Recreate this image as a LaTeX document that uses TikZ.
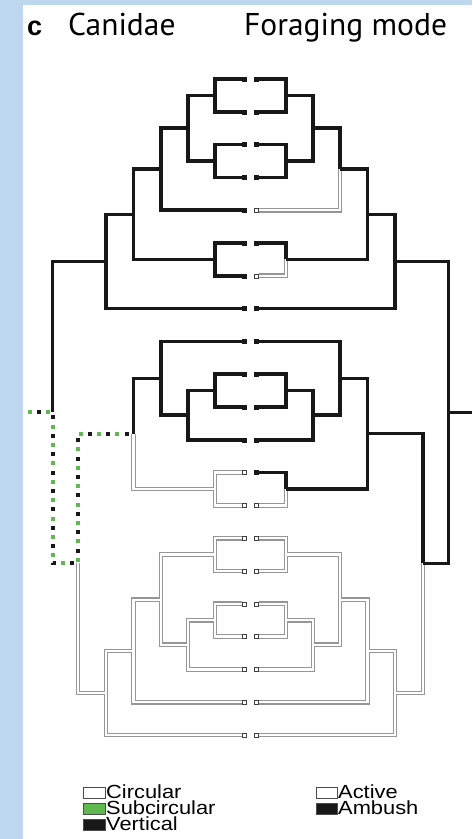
\documentclass[tikz,border=0pt]{standalone}
\usepackage{fontspec}
\usetikzlibrary{calc}
\setmainfont{Liberation Sans}
\newfontfamily\headfont{PT Sans}
\newfontfamily\legendfont[FakeStretch=1.15]{Liberation Sans}
\definecolor{panelblue}{RGB}{189,215,238}
\definecolor{subgreen}{RGB}{96,184,80}
\definecolor{branchgray}{RGB}{150,150,150}
\definecolor{ink}{RGB}{24,24,24}

\begin{document}
\begin{tikzpicture}[x=1pt,y=-1pt,
  blackbr/.style={draw=ink, line width=3.5pt, line join=miter},
  grayouter/.style={draw=branchgray, line width=4.8pt, line join=miter},
  grayinner/.style={draw=white, line width=2.4pt, line join=miter},
  dotbase/.style={line width=4pt, dash pattern=on 4pt off 14.4pt},
  tipfull/.style={fill=ink, draw=ink, line width=0.4pt},
  tipopen/.style={fill=white, draw=black!75, line width=0.6pt},
  legbox/.style={draw=black!70, line width=0.5pt},
  legtext/.style={anchor=base west, inner sep=0pt, font=\legendfont\fontsize{19}{20}\selectfont},
  headtext/.style={anchor=base west, inner sep=0pt, font=\headfont\fontsize{31.5}{33}\selectfont}]

\useasboundingbox (0,0) rectangle (472,839);
% panel background and coloured margins
\fill[white] (0,0) rectangle (472,839);
\fill[panelblue] (0,0) rectangle (23,839);
\fill[panelblue] (0,0) rectangle (472,5);

% headings
\node[anchor=base west, inner sep=0pt, font=\bfseries\fontsize{27}{29}\selectfont] (panel) at (27,35) {c};
\node[headtext] (lefthead) at (68,35) {Canidae};
\node[headtext] (righthead) at (244,35) {Foraging mode};

% leaf ends of both trees
\foreach \i in {0,...,20}{
  \coordinate (lL\i) at (242, 79+32.8*\i);
  \coordinate (rL\i) at (259, 79+32.8*\i);
}

% internal nodes, left tree (pupil shape)
\coordinate (a01)   at (215, 95.4);
\coordinate (a23)   at (215, 161.0);
\coordinate (a03)   at (188, 128.2);
\coordinate (a04)   at (161, 169.2);
\coordinate (a56)   at (215, 259.4);
\coordinate (a06)   at (133.5, 214.3);
\coordinate (a07)   at (106, 261.45);
\coordinate (a910)  at (215, 390.6);
\coordinate (a911)  at (188, 415.2);
\coordinate (a811)  at (161, 378.3);
\coordinate (a1213) at (215, 489.0);
\coordinate (a813)  at (133.5, 433.65);
\coordinate (a1415) at (215, 554.6);
\coordinate (a1617) at (215, 620.2);
\coordinate (a1618) at (188, 644.8);
\coordinate (a1418) at (161, 599.7);
\coordinate (a1419) at (133.5, 650.95);
\coordinate (a1420) at (106, 692.98);
\coordinate (a820)  at (78, 563.31);
\coordinate (lroot) at (52.5, 412.38);
\coordinate (lstub) at (28, 412.38);

% internal nodes, right tree (foraging mode)
\coordinate (b01)   at (286, 95.4);
\coordinate (b23)   at (286, 161.0);
\coordinate (b03)   at (313, 128.2);
\coordinate (b04)   at (340, 169.2);
\coordinate (b56)   at (286, 259.4);
\coordinate (b06)   at (367.5, 214.3);
\coordinate (b07)   at (395, 261.45);
\coordinate (b910)  at (286, 390.6);
\coordinate (b911)  at (313, 415.2);
\coordinate (b811)  at (340, 378.3);
\coordinate (b1213) at (286, 489.0);
\coordinate (b813)  at (367.5, 433.65);
\coordinate (b1415) at (286, 554.6);
\coordinate (b1617) at (286, 620.2);
\coordinate (b1618) at (313, 644.8);
\coordinate (b1418) at (340, 599.7);
\coordinate (b1419) at (367.5, 650.95);
\coordinate (b1420) at (395, 692.98);
\coordinate (b820)  at (423, 563.31);
\coordinate (rroot) at (448.5, 412.38);
\coordinate (rstub) at (472, 412.38);

% open (circular / active) branches: outline first, then hollow core
\def\graylist{a813/a1213, a1213/lL12, a1213/lL13, a820/a1420, a1420/a1419,
  a1420/lL20, a1419/a1418, a1419/lL19, a1418/a1415, a1418/a1618, a1415/lL14,
  a1415/lL15, a1618/a1617, a1618/lL18, a1617/lL16, a1617/lL17,
  b04/rL4, b56/rL6, b1213/rL13, b820/b1420, b1420/b1419, b1420/rL20,
  b1419/b1418, b1419/rL19, b1418/b1415, b1418/b1618, b1415/rL14, b1415/rL15,
  b1618/b1617, b1618/rL18, b1617/rL16, b1617/rL17}
\foreach \p/\c in \graylist { \draw[grayouter] (\p) |- (\c); }
\foreach \p/\c in \graylist { \draw[grayinner] (\p) |- (\c); }

% solid (vertical / ambush) branches
\foreach \p/\c in {a01/lL0, a01/lL1, a23/lL2, a23/lL3, a03/a01, a03/a23,
  a04/a03, a04/lL4, a56/lL5, a56/lL6, a06/a04, a06/a56, a07/a06, a07/lL7,
  lroot/a07, a813/a811, a811/lL8, a811/a911, a911/a910, a911/lL11,
  a910/lL9, a910/lL10,
  b01/rL0, b01/rL1, b23/rL2, b23/rL3, b03/b01, b03/b23, b04/b03, b56/rL5,
  b06/b04, b06/b56, b07/b06, b07/rL7, rroot/b07, rroot/b820, b820/b813,
  b813/b811, b813/b1213, b1213/rL12, b811/rL8, b811/b911, b911/b910,
  b911/rL11, b910/rL9, b910/rL10}
  { \draw[blackbr] (\p) |- (\c); }
\draw[blackbr] (rroot) -- (rstub);

% ambiguous (subcircular / vertical) branches near the root
\draw[dotbase, subgreen] (lstub) -- (lroot) |- (a820) |- (a813);
\draw[dotbase, ink, dash phase=9.2pt] (lstub) -- (lroot) |- (a820) |- (a813);

% tip markers
\foreach \i in {0,...,11}{
  \fill[tipfull] ($(lL\i)+(0.5,-2)$) rectangle ++(4,4);
}
\foreach \i in {12,...,20}{
  \draw[tipopen] ($(lL\i)+(0.5,-2)$) rectangle ++(4,4);
}
\foreach \i in {0,1,2,3,5,7,8,9,10,11,12}{
  \fill[tipfull] ($(rL\i)+(-5,-2)$) rectangle ++(4,4);
}
\foreach \i in {4,6,13,14,15,16,17,18,19,20}{
  \draw[tipopen] ($(rL\i)+(-5,-2)$) rectangle ++(4,4);
}

% legends
\draw[legbox, fill=white]    (83,787.5) rectangle (105,798);
\draw[legbox, fill=subgreen] (83,803.5) rectangle (105,814);
\draw[legbox, fill=ink]      (83,819.5) rectangle (105,830);
\node[legtext] (circ) at (106,798) {Circular};
\node[legtext] (subc) at (106,814) {Subcircular};
\node[legtext] (vert) at (106,830) {Vertical};
\draw[legbox, fill=white] (316,787.5) rectangle (337,798);
\draw[legbox, fill=ink]   (316,803.5) rectangle (337,814);
\node[legtext] (act) at (338,798) {Active};
\node[legtext] (amb) at (338,814) {Ambush};
\end{tikzpicture}
\end{document}
